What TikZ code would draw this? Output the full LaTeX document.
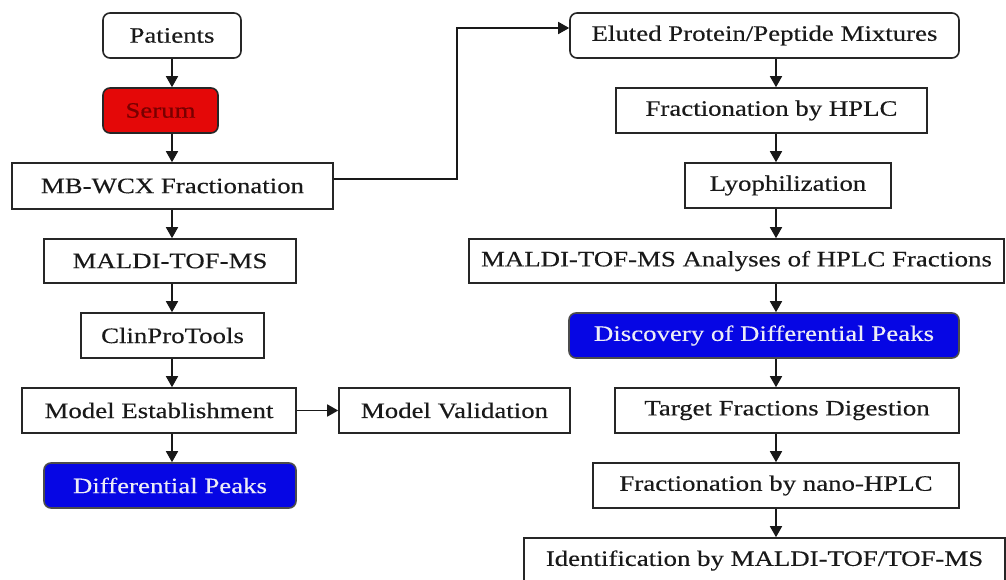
\documentclass[tikz,border=0pt]{standalone}
\usepackage{fontspec}
\setmainfont{Liberation Serif}[FakeStretch=1.22,FakeBold=0.3]
\usetikzlibrary{arrows.meta}
\definecolor{boxred}{RGB}{228,8,8}
\definecolor{txtred}{RGB}{120,0,0}
\definecolor{boxblue}{RGB}{6,6,228}
\definecolor{txtblue}{RGB}{236,236,246}
\tikzset{
  box/.style={draw=black!85, line width=1.6pt, inner sep=0pt, minimum height=45pt,
    font=\fontsize{22}{24}\selectfont, text=black!90},
  rbox/.style={box, rounded corners=7pt},
  redbox/.style={rbox, fill=boxred, text=txtred},
  bluebox/.style={rbox, fill=boxblue, text=txtblue, draw=black!70},
  arr/.style={draw=black!90, line width=1.6pt, -{Triangle[width=12pt,length=11pt]}}
}
\begin{document}
\begin{tikzpicture}[x=1pt,y=-1pt]
\useasboundingbox (0,0) rectangle (1006,579);
\fill[white] (0,0) rectangle (1006,579);
% left column
\node[rbox, minimum width=138pt] (patients) at (172,35.5) {Patients};
\node[redbox, minimum width=115pt] (serum) at (160.5,110.5) {Serum};
\node[box, minimum width=321pt, minimum height=46pt] (mbwcx) at (172.5,186) {MB-WCX Fractionation};
\node[box, minimum width=252pt, minimum height=44pt] (maldi) at (170,261) {MALDI-TOF-MS};
\node[box, minimum width=183pt] (clin) at (172.5,335.5) {ClinProTools};
\node[box, minimum width=274pt] (model) at (159,410.5) {Model Establishment};
\node[box, minimum width=231pt] (valid) at (454.5,410.5) {Model Validation};
\node[bluebox, minimum width=252pt] (diffp) at (170,485.5) {Differential Peaks};
% right column
\node[rbox, minimum width=389pt] (eluted) at (764.5,35.5) {Eluted Protein/Peptide Mixtures};
\node[box, minimum width=311pt] (hplc) at (771.5,110.5) {Fractionation by HPLC};
\node[box, minimum width=206pt] (lyo) at (788,185.5) {Lyophilization};
\node[box, minimum width=535pt, minimum height=44pt] (analyses) at (736.5,261) {MALDI-TOF-MS Analyses of HPLC Fractions};
\node[bluebox, minimum width=390pt] (disc) at (764,335.5) {Discovery of Differential Peaks};
\node[box, minimum width=344pt] (target) at (787,410.5) {Target Fractions Digestion};
\node[box, minimum width=366pt] (nano) at (776,485.5) {Fractionation by nano-HPLC};
\node[box, minimum width=481pt] (ident) at (764.5,560.5) {Identification by MALDI-TOF/TOF-MS};
% column axes
\coordinate (colL) at (172,0);
\coordinate (colR) at (776,0);
% left connectors
\draw[arr] (patients.south -| colL) -- (serum.north -| colL);
\draw[arr] (serum.south -| colL) -- (mbwcx.north -| colL);
\draw[arr] (mbwcx.south -| colL) -- (maldi.north -| colL);
\draw[arr] (maldi.south -| colL) -- (clin.north -| colL);
\draw[arr] (clin.south -| colL) -- (model.north -| colL);
\draw[arr] (model.south -| colL) -- (diffp.north -| colL);
\draw[arr] (model.east) -- (valid.west);
% cross connector
\draw[arr] ([yshift=7pt]mbwcx.east) -- ++(123,0) |- ([yshift=7.5pt]eluted.west);
% right connectors
\draw[arr] (eluted.south -| colR) -- (hplc.north -| colR);
\draw[arr] (hplc.south -| colR) -- (lyo.north -| colR);
\draw[arr] (lyo.south -| colR) -- (analyses.north -| colR);
\draw[arr] (analyses.south -| colR) -- (disc.north -| colR);
\draw[arr] (disc.south -| colR) -- (target.north -| colR);
\draw[arr] (target.south -| colR) -- (nano.north -| colR);
\draw[arr] (nano.south -| colR) -- (ident.north -| colR);
\end{tikzpicture}
\end{document}
